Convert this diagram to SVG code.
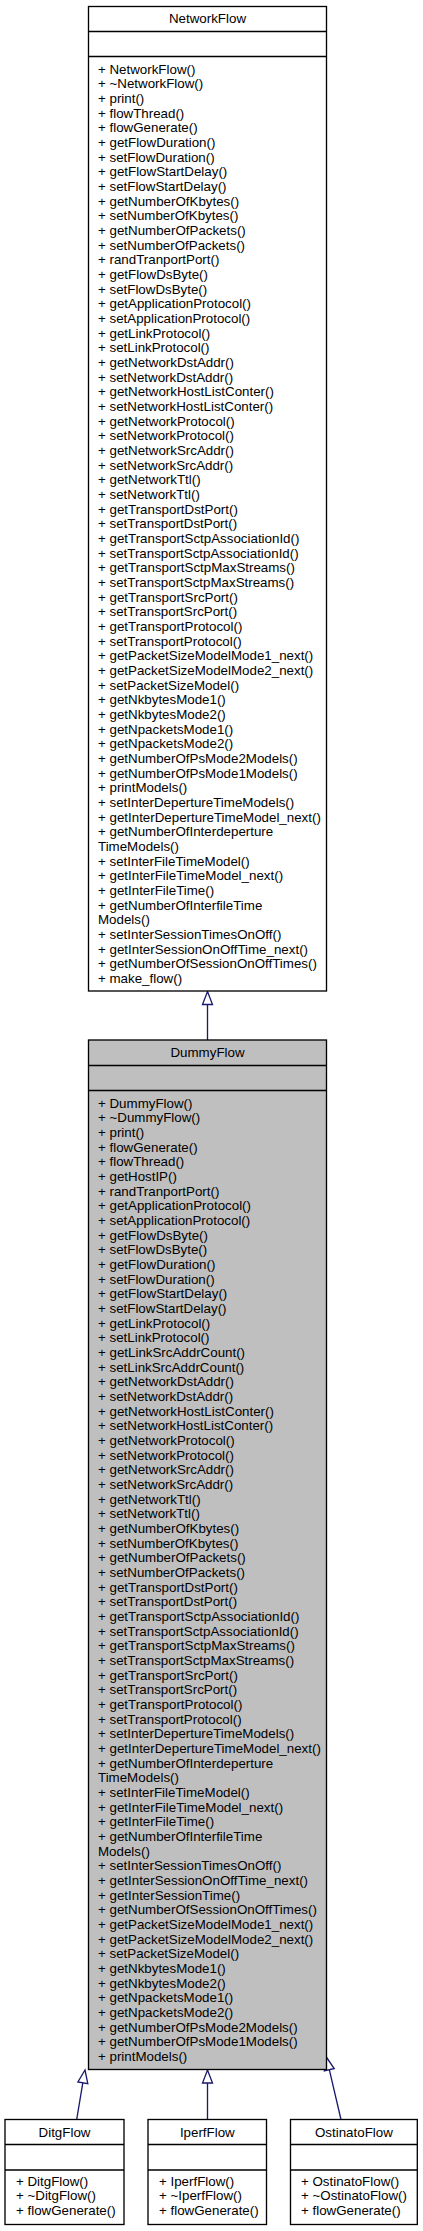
<svg xmlns="http://www.w3.org/2000/svg" width="423" height="2231" viewBox="0 0 423 2231">
<style>
.box{fill:#ffffff;stroke:#000000;stroke-width:1.33}
.cur{fill:#bfbfbf}
.sep{stroke:#000000;stroke-width:1.33;fill:none}
text{font-family:"Liberation Sans",Arial,Helvetica,sans-serif;font-size:13.33px;fill:#000000}
.t{text-anchor:middle}
.edge{stroke:#191970;stroke-width:1.33;fill:none}
.head{fill:#ffffff;stroke:#191970;stroke-width:1.33}
</style>
<rect width="423" height="2231" fill="#ffffff"/>
<g id="connectors">
<path class="edge" d="M207.5,1040 L207.5,1004.5"/>
<polygon class="head" points="207.5,991.5 212.5,1004.5 202.5,1004.5"/>
<path class="edge" d="M76.7,2119.5 L82.8,2082.8"/>
<polygon class="head" points="85,2070 87.8,2083.7 77.9,2082"/>
<path class="edge" d="M207.5,2119.5 L207.5,2083"/>
<polygon class="head" points="207.5,2070 212.5,2083 202.5,2083"/>
<path class="edge" d="M341,2119.5 L329.3,2069.6"/>
<polygon class="head" points="326.3,2057 334.2,2068.5 324.4,2070.8"/>
</g>
<g id="NetworkFlow">
<rect class="box" x="88.5" y="6.5" width="238" height="984.5"/>
<path class="sep" d="M88.5,31.5 H326.5 M88.5,56.5 H326.5"/>
<text class="t" x="207.5" y="23.3">NetworkFlow</text>
<text><tspan x="98" y="73.8">+ NetworkFlow()</tspan><tspan x="98" dy="14.667">+ ~NetworkFlow()</tspan><tspan x="98" dy="14.667">+ print()</tspan><tspan x="98" dy="14.667">+ flowThread()</tspan><tspan x="98" dy="14.667">+ flowGenerate()</tspan><tspan x="98" dy="14.667">+ getFlowDuration()</tspan><tspan x="98" dy="14.667">+ setFlowDuration()</tspan><tspan x="98" dy="14.667">+ getFlowStartDelay()</tspan><tspan x="98" dy="14.667">+ setFlowStartDelay()</tspan><tspan x="98" dy="14.667">+ getNumberOfKbytes()</tspan><tspan x="98" dy="14.667">+ setNumberOfKbytes()</tspan><tspan x="98" dy="14.667">+ getNumberOfPackets()</tspan><tspan x="98" dy="14.667">+ setNumberOfPackets()</tspan><tspan x="98" dy="14.667">+ randTranportPort()</tspan><tspan x="98" dy="14.667">+ getFlowDsByte()</tspan><tspan x="98" dy="14.667">+ setFlowDsByte()</tspan><tspan x="98" dy="14.667">+ getApplicationProtocol()</tspan><tspan x="98" dy="14.667">+ setApplicationProtocol()</tspan><tspan x="98" dy="14.667">+ getLinkProtocol()</tspan><tspan x="98" dy="14.667">+ setLinkProtocol()</tspan><tspan x="98" dy="14.667">+ getNetworkDstAddr()</tspan><tspan x="98" dy="14.667">+ setNetworkDstAddr()</tspan><tspan x="98" dy="14.667">+ getNetworkHostListConter()</tspan><tspan x="98" dy="14.667">+ setNetworkHostListConter()</tspan><tspan x="98" dy="14.667">+ getNetworkProtocol()</tspan><tspan x="98" dy="14.667">+ setNetworkProtocol()</tspan><tspan x="98" dy="14.667">+ getNetworkSrcAddr()</tspan><tspan x="98" dy="14.667">+ setNetworkSrcAddr()</tspan><tspan x="98" dy="14.667">+ getNetworkTtl()</tspan><tspan x="98" dy="14.667">+ setNetworkTtl()</tspan><tspan x="98" dy="14.667">+ getTransportDstPort()</tspan><tspan x="98" dy="14.667">+ setTransportDstPort()</tspan><tspan x="98" dy="14.667">+ getTransportSctpAssociationId()</tspan><tspan x="98" dy="14.667">+ setTransportSctpAssociationId()</tspan><tspan x="98" dy="14.667">+ getTransportSctpMaxStreams()</tspan><tspan x="98" dy="14.667">+ setTransportSctpMaxStreams()</tspan><tspan x="98" dy="14.667">+ getTransportSrcPort()</tspan><tspan x="98" dy="14.667">+ setTransportSrcPort()</tspan><tspan x="98" dy="14.667">+ getTransportProtocol()</tspan><tspan x="98" dy="14.667">+ setTransportProtocol()</tspan><tspan x="98" dy="14.667">+ getPacketSizeModelMode1_next()</tspan><tspan x="98" dy="14.667">+ getPacketSizeModelMode2_next()</tspan><tspan x="98" dy="14.667">+ setPacketSizeModel()</tspan><tspan x="98" dy="14.667">+ getNkbytesMode1()</tspan><tspan x="98" dy="14.667">+ getNkbytesMode2()</tspan><tspan x="98" dy="14.667">+ getNpacketsMode1()</tspan><tspan x="98" dy="14.667">+ getNpacketsMode2()</tspan><tspan x="98" dy="14.667">+ getNumberOfPsMode2Models()</tspan><tspan x="98" dy="14.667">+ getNumberOfPsMode1Models()</tspan><tspan x="98" dy="14.667">+ printModels()</tspan><tspan x="98" dy="14.667">+ setInterDepertureTimeModels()</tspan><tspan x="98" dy="14.667">+ getInterDepertureTimeModel_next()</tspan><tspan x="98" dy="14.667">+ getNumberOfInterdeperture</tspan><tspan x="98" dy="14.667">TimeModels()</tspan><tspan x="98" dy="14.667">+ setInterFileTimeModel()</tspan><tspan x="98" dy="14.667">+ getInterFileTimeModel_next()</tspan><tspan x="98" dy="14.667">+ getInterFileTime()</tspan><tspan x="98" dy="14.667">+ getNumberOfInterfileTime</tspan><tspan x="98" dy="14.667">Models()</tspan><tspan x="98" dy="14.667">+ setInterSessionTimesOnOff()</tspan><tspan x="98" dy="14.667">+ getInterSessionOnOffTime_next()</tspan><tspan x="98" dy="14.667">+ getNumberOfSessionOnOffTimes()</tspan><tspan x="98" dy="14.667">+ make_flow()</tspan></text>
</g>
<g id="DummyFlow">
<rect class="box cur" x="88.5" y="1040" width="238" height="1029.5"/>
<path class="sep" d="M88.5,1065.5 H326.5 M88.5,1090.5 H326.5"/>
<text class="t" x="207.5" y="1057.3">DummyFlow</text>
<text><tspan x="98" y="1107.6">+ DummyFlow()</tspan><tspan x="98" dy="14.667">+ ~DummyFlow()</tspan><tspan x="98" dy="14.667">+ print()</tspan><tspan x="98" dy="14.667">+ flowGenerate()</tspan><tspan x="98" dy="14.667">+ flowThread()</tspan><tspan x="98" dy="14.667">+ getHostIP()</tspan><tspan x="98" dy="14.667">+ randTranportPort()</tspan><tspan x="98" dy="14.667">+ getApplicationProtocol()</tspan><tspan x="98" dy="14.667">+ setApplicationProtocol()</tspan><tspan x="98" dy="14.667">+ getFlowDsByte()</tspan><tspan x="98" dy="14.667">+ setFlowDsByte()</tspan><tspan x="98" dy="14.667">+ getFlowDuration()</tspan><tspan x="98" dy="14.667">+ setFlowDuration()</tspan><tspan x="98" dy="14.667">+ getFlowStartDelay()</tspan><tspan x="98" dy="14.667">+ setFlowStartDelay()</tspan><tspan x="98" dy="14.667">+ getLinkProtocol()</tspan><tspan x="98" dy="14.667">+ setLinkProtocol()</tspan><tspan x="98" dy="14.667">+ getLinkSrcAddrCount()</tspan><tspan x="98" dy="14.667">+ setLinkSrcAddrCount()</tspan><tspan x="98" dy="14.667">+ getNetworkDstAddr()</tspan><tspan x="98" dy="14.667">+ setNetworkDstAddr()</tspan><tspan x="98" dy="14.667">+ getNetworkHostListConter()</tspan><tspan x="98" dy="14.667">+ setNetworkHostListConter()</tspan><tspan x="98" dy="14.667">+ getNetworkProtocol()</tspan><tspan x="98" dy="14.667">+ setNetworkProtocol()</tspan><tspan x="98" dy="14.667">+ getNetworkSrcAddr()</tspan><tspan x="98" dy="14.667">+ setNetworkSrcAddr()</tspan><tspan x="98" dy="14.667">+ getNetworkTtl()</tspan><tspan x="98" dy="14.667">+ setNetworkTtl()</tspan><tspan x="98" dy="14.667">+ getNumberOfKbytes()</tspan><tspan x="98" dy="14.667">+ setNumberOfKbytes()</tspan><tspan x="98" dy="14.667">+ getNumberOfPackets()</tspan><tspan x="98" dy="14.667">+ setNumberOfPackets()</tspan><tspan x="98" dy="14.667">+ getTransportDstPort()</tspan><tspan x="98" dy="14.667">+ setTransportDstPort()</tspan><tspan x="98" dy="14.667">+ getTransportSctpAssociationId()</tspan><tspan x="98" dy="14.667">+ setTransportSctpAssociationId()</tspan><tspan x="98" dy="14.667">+ getTransportSctpMaxStreams()</tspan><tspan x="98" dy="14.667">+ setTransportSctpMaxStreams()</tspan><tspan x="98" dy="14.667">+ getTransportSrcPort()</tspan><tspan x="98" dy="14.667">+ setTransportSrcPort()</tspan><tspan x="98" dy="14.667">+ getTransportProtocol()</tspan><tspan x="98" dy="14.667">+ setTransportProtocol()</tspan><tspan x="98" dy="14.667">+ setInterDepertureTimeModels()</tspan><tspan x="98" dy="14.667">+ getInterDepertureTimeModel_next()</tspan><tspan x="98" dy="14.667">+ getNumberOfInterdeperture</tspan><tspan x="98" dy="14.667">TimeModels()</tspan><tspan x="98" dy="14.667">+ setInterFileTimeModel()</tspan><tspan x="98" dy="14.667">+ getInterFileTimeModel_next()</tspan><tspan x="98" dy="14.667">+ getInterFileTime()</tspan><tspan x="98" dy="14.667">+ getNumberOfInterfileTime</tspan><tspan x="98" dy="14.667">Models()</tspan><tspan x="98" dy="14.667">+ setInterSessionTimesOnOff()</tspan><tspan x="98" dy="14.667">+ getInterSessionOnOffTime_next()</tspan><tspan x="98" dy="14.667">+ getInterSessionTime()</tspan><tspan x="98" dy="14.667">+ getNumberOfSessionOnOffTimes()</tspan><tspan x="98" dy="14.667">+ getPacketSizeModelMode1_next()</tspan><tspan x="98" dy="14.667">+ getPacketSizeModelMode2_next()</tspan><tspan x="98" dy="14.667">+ setPacketSizeModel()</tspan><tspan x="98" dy="14.667">+ getNkbytesMode1()</tspan><tspan x="98" dy="14.667">+ getNkbytesMode2()</tspan><tspan x="98" dy="14.667">+ getNpacketsMode1()</tspan><tspan x="98" dy="14.667">+ getNpacketsMode2()</tspan><tspan x="98" dy="14.667">+ getNumberOfPsMode2Models()</tspan><tspan x="98" dy="14.667">+ getNumberOfPsMode1Models()</tspan><tspan x="98" dy="14.667">+ printModels()</tspan></text>
</g>
<g id="DitgFlow">
<rect class="box" x="5" y="2119.5" width="119" height="105"/>
<path class="sep" d="M5,2144.5 H124 M5,2170 H124"/>
<text class="t" x="64.5" y="2136.6">DitgFlow</text>
<text><tspan x="16" y="2185.5">+ DitgFlow()</tspan><tspan x="16" dy="14.667">+ ~DitgFlow()</tspan><tspan x="16" dy="14.667">+ flowGenerate()</tspan></text>
</g>
<g id="IperfFlow">
<rect class="box" x="148" y="2119.5" width="118.5" height="105"/>
<path class="sep" d="M148,2144.5 H266.5 M148,2170 H266.5"/>
<text class="t" x="207.3" y="2136.6">IperfFlow</text>
<text><tspan x="159" y="2185.5">+ IperfFlow()</tspan><tspan x="159" dy="14.667">+ ~IperfFlow()</tspan><tspan x="159" dy="14.667">+ flowGenerate()</tspan></text>
</g>
<g id="OstinatoFlow">
<rect class="box" x="290.5" y="2119.5" width="126.8" height="105"/>
<path class="sep" d="M290.5,2144.5 H417.3 M290.5,2170 H417.3"/>
<text class="t" x="353.9" y="2136.6">OstinatoFlow</text>
<text><tspan x="301" y="2185.5">+ OstinatoFlow()</tspan><tspan x="301" dy="14.667">+ ~OstinatoFlow()</tspan><tspan x="301" dy="14.667">+ flowGenerate()</tspan></text>
</g>
</svg>
